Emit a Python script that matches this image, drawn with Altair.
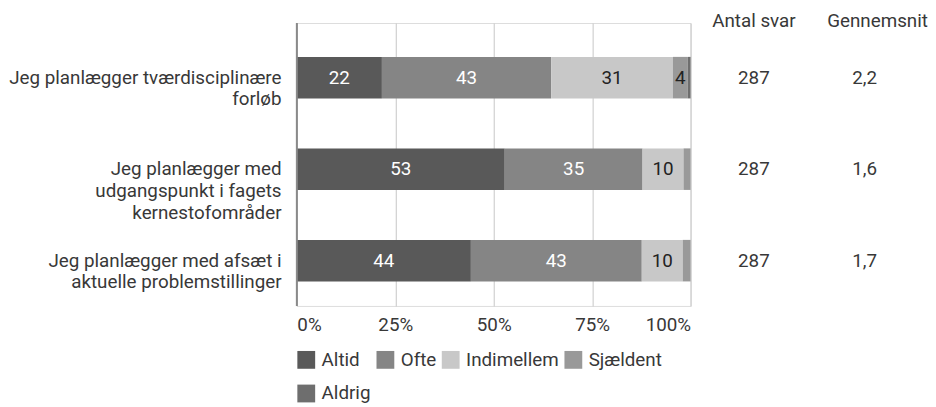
import altair as alt
import pandas as pd

categories = [
    "Jeg planlægger tværdisciplinære|forløb",
    "Jeg planlægger med|udgangspunkt i fagets|kernestofområder",
    "Jeg planlægger med afsæt i|aktuelle problemstillinger",
]
series = ["Altid", "Ofte", "Indimellem", "Sjældent", "Aldrig"]
altid = [21.6, 52.8, 44.2]
ofte = [43.0, 35.0, 43.4]
indimellem = [30.9, 10.4, 10.4]
sjaeldent = [3.8, 1.8, 2.0]
aldrig = [0.7, 0.0, 0.0]
colors = ["#595959", "#858585", "#c8c8c8", "#999999", "#6e6e6e"]
antal_svar = ["287", "287", "287"]
gennemsnit = ["2,2", "1,6", "1,7"]
headers = ["Antal svar", "Gennemsnit"]

values = [altid, ofte, indimellem, sjaeldent, aldrig]
rows = []
for si, (s, vals) in enumerate(zip(series, values)):
    for ci, c in enumerate(categories):
        v = vals[ci]
        rows.append({"category": c, "series": s, "order": si, "value": v,
                     "label": str(int(round(v))) if v >= 3.5 else ""})
df = pd.DataFrame(rows)

table = pd.DataFrame({"category": categories, "antal": antal_svar, "snit": gennemsnit})
hdr = pd.DataFrame({"h1": [headers[0]], "h2": [headers[1]]})

FONT = "Roboto"
FS = 19
TC = "#383838"

yenc = alt.Y(
    "category:N", sort=categories, title=None,
    scale=alt.Scale(paddingInner=0.546, paddingOuter=0.319, align=0.58),
    axis=alt.Axis(labelExpr="split(datum.label, '|')", labelLineHeight=22,
                  labelFontSize=FS, labelColor=TC, labelPadding=16,
                  labelAlign="right",
                  ticks=False, domain=False, labelLimit=400, labelFont=FONT),
)

base = alt.Chart(df).transform_stack(
    stack="value", groupby=["category"], as_=["x0", "x1"],
    sort=[alt.SortField("order", order="ascending")],
)

bars = base.mark_bar().encode(
    x=alt.X("x0:Q", scale=alt.Scale(domain=[0, 100]), title=None,
            axis=alt.Axis(values=[0, 25, 50, 75, 100], labelExpr="datum.value + '%'",
                          grid=True, gridColor="#c6c6c6", ticks=False, domain=False,
                          labelPadding=10, labelFontSize=FS, labelColor=TC,
                          labelFlush=True, labelFont=FONT)),
    x2="x1:Q",
    y=yenc,
    color=alt.Color("series:N", scale=alt.Scale(domain=series, range=colors),
                    legend=alt.Legend(orient="none", legendX=0, legendY=331, columns=4,
                                      direction="horizontal", gridAlign="none",
                                      symbolType="square", symbolSize=324,
                                      symbolStrokeWidth=0, labelFontSize=FS,
                                      labelColor=TC, rowPadding=14,
                                      columnPadding=5, labelOffset=6, title=None,
                                      labelFont=FONT)),
)

txt = base.transform_calculate(mid="(datum.x0 + datum.x1) / 2").mark_text(
    fontSize=FS, font=FONT, baseline="middle"
).encode(
    x="mid:Q",
    y=alt.Y("category:N", sort=categories),
    text="label:N",
    color=alt.condition("datum.series == 'Altid' || datum.series == 'Ofte'",
                        alt.value("white"), alt.value("#222222")),
)

zero = alt.Chart(pd.DataFrame({"z": [0]})).mark_rule(color="#8a8a8a", strokeWidth=2).encode(
    x="z:Q"
)

col1 = alt.Chart(table).mark_text(fontSize=FS, font=FONT, color=TC).encode(
    x=alt.value(462), y=alt.Y("category:N", sort=categories), text="antal:N"
)
col2 = alt.Chart(table).mark_text(fontSize=FS, font=FONT, color=TC).encode(
    x=alt.value(574), y=alt.Y("category:N", sort=categories), text="snit:N"
)
h1 = alt.Chart(hdr).mark_text(fontSize=FS, font=FONT, color=TC, baseline="middle").encode(
    x=alt.value(462), y=alt.value(-2), text="h1:N"
)
h2 = alt.Chart(hdr).mark_text(fontSize=FS, font=FONT, color=TC, baseline="middle").encode(
    x=alt.value(587), y=alt.value(-2), text="h2:N"
)

chart = alt.layer(bars, zero, txt, col1, col2, h1, h2).properties(
    width=398, height=286, padding={"left": 0, "top": 2, "right": 0, "bottom": 5}
).configure_view(stroke=None).configure(font=FONT)

chart.save("out.html", embed_options={"renderer": "svg", "actions": False})
